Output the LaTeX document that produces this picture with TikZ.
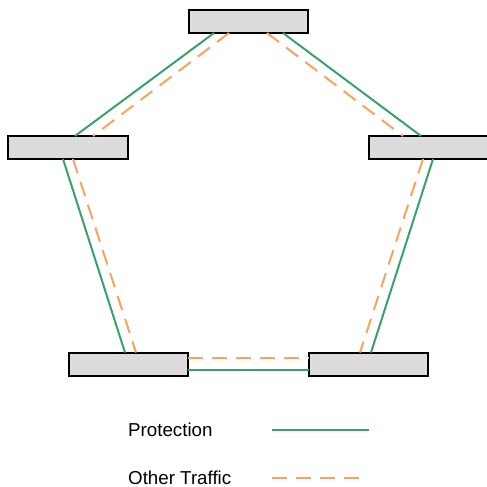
\documentclass[tikz,border=0pt]{standalone}
\usepackage{fontspec}
\setmainfont{Liberation Sans}
\usetikzlibrary{calc}
\definecolor{protgreen}{RGB}{58,160,108}
\definecolor{trafforange}{RGB}{246,164,96}
\definecolor{boxgray}{RGB}{220,220,220}
\tikzset{
  site/.style={draw=black, fill=boxgray, line width=2bp, minimum width=119bp,
    minimum height=23bp, inner sep=0pt, outer sep=0pt},
  protection/.style={draw=protgreen, line width=2bp},
  traffic/.style={draw=trafforange, line width=2bp, dash pattern=on 15bp off 9bp},
  legendtext/.style={anchor=base west, inner sep=0pt, font=\fontsize{18.8}{22}\selectfont}
}
\begin{document}
\begin{tikzpicture}[x=1bp, y=-1bp]
\useasboundingbox (0,0) rectangle (487,487);

% ring of five sites
\node[site] (T)  at (248.5,21.5) {};
\node[site] (L)  at (68,147.5) {};
\node[site] (R)  at (428,147.5) {};
\node[site] (BL) at (128,364) {};
\node[site] (BR) at (368,364) {};

% protection ring (outer)
\draw[protection] ($(T.south)+(-34.5,0)$) -- ($(L.north)+(7,0)$);
\draw[protection] ($(T.south)+(34.5,0)$) -- ($(R.north)+(-7,0)$);
\draw[protection] ($(L.south)+(-5,0)$) -- ($(BL.north)+(-3,0)$);
\draw[protection] ($(R.south)+(5,0)$) -- ($(BR.north)+(3,0)$);
\draw[protection] ($(BL.east)+(0,6)$) -- ($(BR.west)+(0,6)$);

% other traffic ring (inner)
\draw[traffic] ($(T.south)+(-19.5,0)$) -- ($(L.north)+(25,0)$);
\draw[traffic] ($(T.south)+(18.5,0)$) -- ($(R.north)+(-25,0)$);
\draw[traffic] ($(L.south)+(5,0)$) -- ($(BL.north)+(8,0)$);
\draw[traffic] ($(R.south)+(-5,0)$) -- ($(BR.north)+(-8,0)$);
\draw[traffic] ($(BL.east)+(0,-6)$) -- ($(BR.west)+(0,-6)$);

% legend
\node[legendtext] (lp) at (128,436) {Protection};
\node[legendtext] (lt) at (128,484) {Other Traffic};
\coordinate (pa) at (272,430);
\coordinate (pb) at (369,430);
\coordinate (ta) at (272,478);
\coordinate (tb) at (359,478);
\draw[protection] (pa) -- (pb);
\draw[traffic] (ta) -- (tb);
\end{tikzpicture}
\end{document}
